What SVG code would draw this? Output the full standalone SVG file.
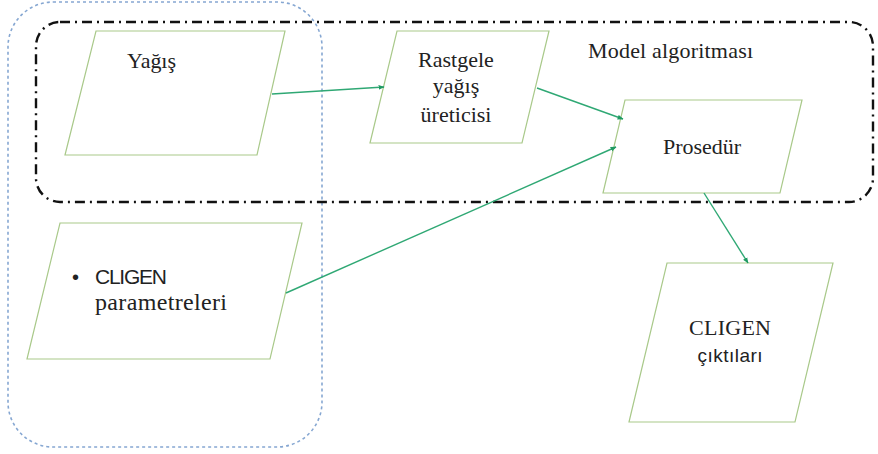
<svg xmlns="http://www.w3.org/2000/svg" width="878" height="454" viewBox="0 0 878 454">
<defs>
<style>
.para{fill:#ffffff;stroke:#a9c98a;stroke-width:1.2}
.conn{stroke:#2fa874;stroke-width:1.4;fill:none;marker-end:url(#ah)}
</style>
<marker id="ah" viewBox="0 0 10 10" refX="9" refY="5" markerWidth="6" markerHeight="6" orient="auto" markerUnits="userSpaceOnUse">
<path d="M0,1 L10,5 L0,9 z" fill="#1f9a62"/>
</marker>
</defs>
<rect width="878" height="454" fill="#ffffff"/>
<g id="group-cligen">
<rect x="8" y="2" width="314" height="445" rx="45" ry="45" fill="none" stroke="#86a7d2" stroke-width="1.6" stroke-dasharray="3,3"/>
</g>
<g id="group-model">
<rect x="36" y="22" width="837" height="180" rx="24" ry="24" fill="none" stroke="#111" stroke-width="2.4" stroke-dasharray="10,5,2,5"/>
<text x="588" y="58" font-family="Liberation Serif, DejaVu Serif, serif" font-size="22" fill="#222" textLength="165">Model algoritması</text>
</g>
<g id="node-yagis">
<polygon class="para" points="96,31 285,31 257,155 65,155"/>
<text x="127" y="68" font-family="Liberation Serif, DejaVu Serif, serif" font-size="22" fill="#222" textLength="49">Yağış</text>
</g>
<g id="node-rastgele">
<polygon class="para" points="397,31 549,31 522,143 370,143"/>
<g font-family="Liberation Serif, DejaVu Serif, serif" font-size="22" fill="#222" text-anchor="middle">
<text x="456" y="67">Rastgele</text>
<text x="456" y="93">yağış</text>
<text x="456" y="122">üreticisi</text>
</g>
</g>
<g id="node-prosedur">
<polygon class="para" points="625,100 802,100 780,193 603,193"/>
<text x="702" y="154" text-anchor="middle" font-family="Liberation Serif, DejaVu Serif, serif" font-size="22" fill="#222">Prosedür</text>
</g>
<g id="node-params">
<polygon class="para" points="60,223 302,223 270,359 27,359"/>
<text x="72" y="284" font-family="Liberation Sans, Arial, sans-serif" font-size="20" fill="#222">•</text>
<text x="95" y="284" font-family="Liberation Sans, Arial, sans-serif" font-size="21" fill="#222" textLength="72">CLIGEN</text>
<text x="95" y="310" font-family="Liberation Serif, DejaVu Serif, serif" font-size="24" fill="#222" textLength="132">parametreleri</text>
</g>
<g id="node-outputs">
<polygon class="para" points="667,263 833,263 795,422 629,422"/>
<text x="730" y="335" text-anchor="middle" font-family="Liberation Serif, DejaVu Serif, serif" font-size="22" fill="#222" textLength="82">CLIGEN</text>
<text x="730" y="362" text-anchor="middle" font-family="Liberation Sans, Arial, sans-serif" font-size="19" fill="#222" textLength="65">çıktıları</text>
</g>
<g id="connectors">
<line class="conn" x1="272" y1="94" x2="384" y2="87"/>
<line class="conn" x1="537" y1="88" x2="623" y2="119"/>
<line class="conn" x1="286" y1="293" x2="616" y2="147"/>
<line class="conn" x1="704" y1="193" x2="748" y2="263"/>
</g>
</svg>
